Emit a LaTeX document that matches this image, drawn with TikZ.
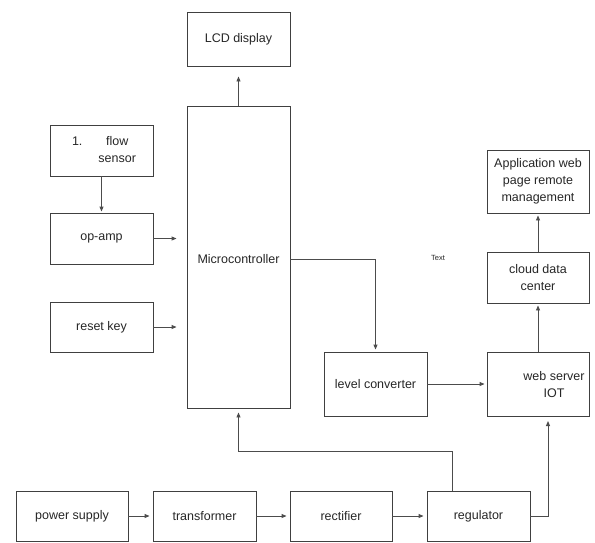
\documentclass[tikz,border=0pt]{standalone}
\usepackage{fontspec}
\setmainfont{Liberation Sans}
\usetikzlibrary{arrows.meta}
\begin{document}
\begin{tikzpicture}[x=1pt,y=-1pt,
  lbl/.style={font=\fontsize{12.5}{17}\selectfont,text=black!85},
  blk/.style={lbl,draw=black!75,line width=0.9pt,minimum width=103pt,minimum height=51pt,inner sep=1pt,align=center},
  conn/.style={draw=black!70,line width=0.9pt,-{Triangle[length=5pt,width=4pt]}}]
\useasboundingbox (0,0) rectangle (595,542);
\node[blk,minimum height=54pt] (lcd) at (238.5,39) {LCD display};
\node[blk,minimum height=302pt] (mc) at (238.5,257) {};
\node[lbl,inner sep=0pt] (mcT) at (238.5,259) {Microcontroller};
\node[blk] (flow) at (101.5,150.5) {};
\node[lbl,inner sep=0pt] (flowT) at (104,151) {\begin{tabular}{@{}l@{\hspace{16pt}}c@{}}1. & flow\\ & sensor\end{tabular}};
\node[blk] (op) at (101.5,238.5) {op-amp};
\node[blk,minimum height=50pt] (reset) at (101.5,327) {reset key};
\node[blk,minimum height=64pt] (lvl) at (375.5,384) {level converter};
\node[blk,minimum width=102pt,minimum height=64pt] (web) at (538,384) {};
\node[lbl,align=center,inner sep=0pt] (webT) at (554,385) {web server\\IOT};
\node[blk,minimum width=102pt] (cloud) at (538,277.5) {cloud data\\center};
\node[blk,minimum width=102pt,minimum height=63pt] (app) at (538,181.5) {Application web\\page remote\\management};
\node[blk,minimum width=112pt,minimum height=50pt] (ps) at (72,516) {power supply};
\node[blk,minimum height=50pt] (tr) at (204.5,516) {transformer};
\node[blk,minimum width=102pt,minimum height=50pt] (rec) at (341,516) {rectifier};
\node[blk,minimum height=50pt] (reg) at (478.5,516) {regulator};
\node[font=\fontsize{7.5}{9}\selectfont,text=black!85] (txt) at (438,258) {Text};
\coordinate (mcout) at (290,259);
\coordinate (lvlbend) at (375.5,259);
\coordinate (regtop) at (452,491);
\coordinate (regup) at (452,451);
\coordinate (mcin) at (238.5,451);
\coordinate (regright) at (548,516);
\coordinate (webin) at (548,416);
% connectors
\draw[conn,shorten >=10pt] (mc.north) -- (lcd.south);
\draw[conn,shorten >=1pt] (flow.south) -- (op.north);
\draw[conn,shorten >=10pt] (op.east) -- (op.east -| mc.west);
\draw[conn,shorten >=10pt] (reset.east) -- (reset.east -| mc.west);
\draw[conn,shorten >=2pt] (mcout) -- (lvlbend) -- (lvl.north);
\draw[conn,shorten >=2pt] (lvl.east) -- (web.west);
\draw[conn,shorten >=2pt] (web.north) -- (cloud.south);
\draw[conn,shorten >=2pt] (cloud.north) -- (app.south);
\draw[conn,shorten >=3pt] (ps.east) -- (tr.west);
\draw[conn,shorten >=3pt] (tr.east) -- (rec.west);
\draw[conn,shorten >=3pt] (rec.east) -- (reg.west);
\draw[conn,shorten >=4pt] (regtop) -- (regup) -- (mcin) -- (mc.south);
\draw[conn,shorten >=5pt] (reg.east) -- (regright) -- (webin);
\end{tikzpicture}
\end{document}
